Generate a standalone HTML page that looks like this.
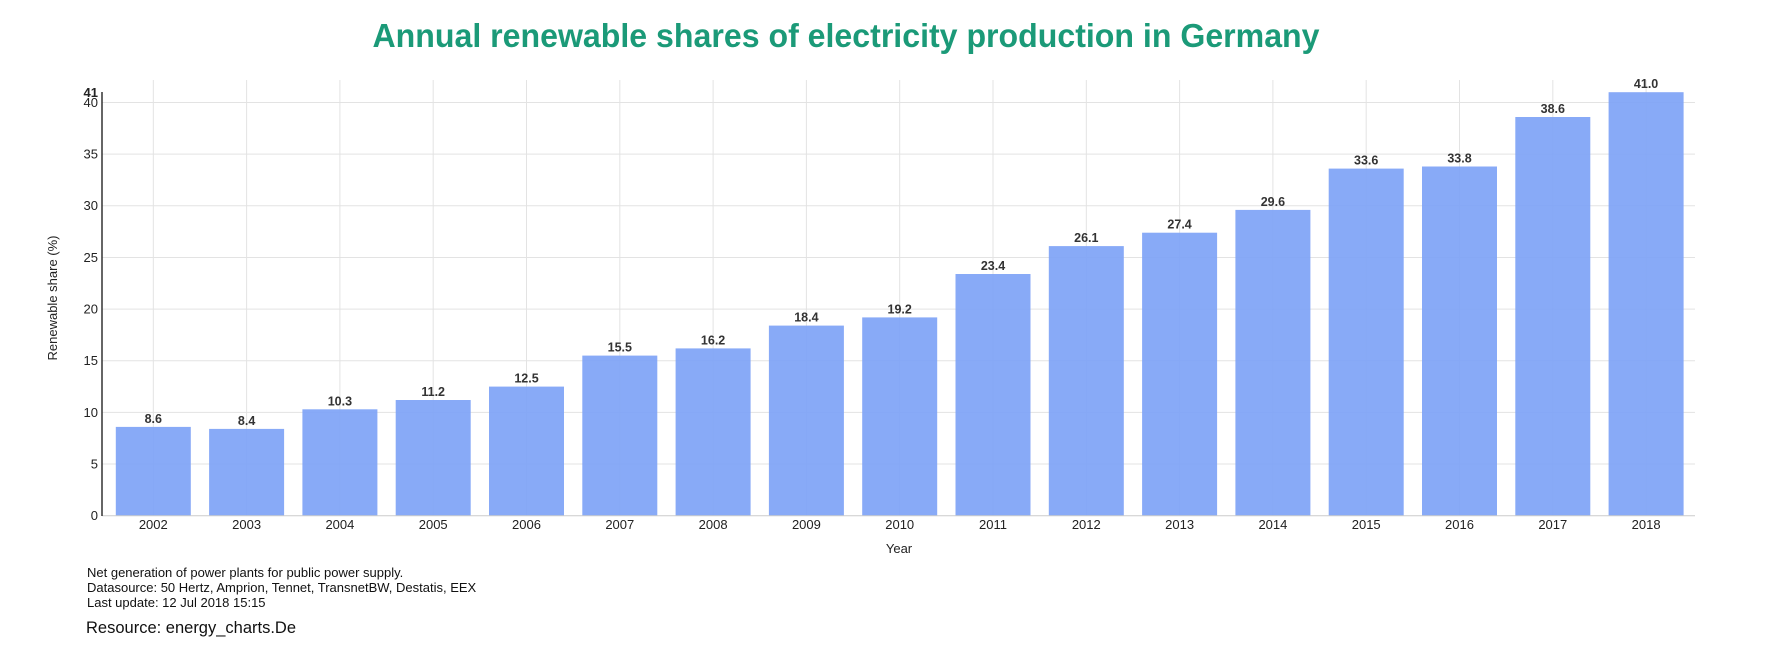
<!DOCTYPE html>
<html><head><meta charset="utf-8"><style>html,body{margin:0;padding:0;background:#fff;}svg{display:block}</style></head>
<body>
<svg width="1790" height="650" xmlns="http://www.w3.org/2000/svg" font-family="Liberation Sans, Arial, sans-serif">
<text x="846" y="47" text-anchor="middle" font-size="33" font-weight="bold" fill="#1b9a78" textLength="947" lengthAdjust="spacingAndGlyphs">Annual renewable shares of electricity production in Germany</text>
<g stroke="#e3e3e3" stroke-width="1">
<line x1="102" x2="1695" y1="464.05" y2="464.05"/><line x1="102" x2="1695" y1="412.4" y2="412.4"/><line x1="102" x2="1695" y1="360.75" y2="360.75"/><line x1="102" x2="1695" y1="309.1" y2="309.1"/><line x1="102" x2="1695" y1="257.45" y2="257.45"/><line x1="102" x2="1695" y1="205.8" y2="205.8"/><line x1="102" x2="1695" y1="154.15" y2="154.15"/><line x1="102" x2="1695" y1="102.5" y2="102.5"/>
<line x1="153.3" x2="153.3" y1="80" y2="516"/><line x1="246.6" x2="246.6" y1="80" y2="516"/><line x1="339.9" x2="339.9" y1="80" y2="516"/><line x1="433.2" x2="433.2" y1="80" y2="516"/><line x1="526.5" x2="526.5" y1="80" y2="516"/><line x1="619.8" x2="619.8" y1="80" y2="516"/><line x1="713.1" x2="713.1" y1="80" y2="516"/><line x1="806.4" x2="806.4" y1="80" y2="516"/><line x1="899.7" x2="899.7" y1="80" y2="516"/><line x1="993" x2="993" y1="80" y2="516"/><line x1="1086.3" x2="1086.3" y1="80" y2="516"/><line x1="1179.6" x2="1179.6" y1="80" y2="516"/><line x1="1272.9" x2="1272.9" y1="80" y2="516"/><line x1="1366.2" x2="1366.2" y1="80" y2="516"/><line x1="1459.5" x2="1459.5" y1="80" y2="516"/><line x1="1552.8" x2="1552.8" y1="80" y2="516"/><line x1="1646.1" x2="1646.1" y1="80" y2="516"/>
</g>
<g fill="#7ea3f6" fill-opacity="0.92">
<rect x="115.8" y="426.9" width="75" height="88.8"/><rect x="209.1" y="428.9" width="75" height="86.8"/><rect x="302.4" y="409.3" width="75" height="106.4"/><rect x="395.7" y="400.0" width="75" height="115.7"/><rect x="489.0" y="386.6" width="75" height="129.1"/><rect x="582.3" y="355.6" width="75" height="160.1"/><rect x="675.6" y="348.4" width="75" height="167.3"/><rect x="768.9" y="325.6" width="75" height="190.1"/><rect x="862.2" y="317.4" width="75" height="198.3"/><rect x="955.5" y="274.0" width="75" height="241.7"/><rect x="1048.8" y="246.1" width="75" height="269.6"/><rect x="1142.1" y="232.7" width="75" height="283.0"/><rect x="1235.4" y="209.9" width="75" height="305.8"/><rect x="1328.7" y="168.6" width="75" height="347.1"/><rect x="1422.0" y="166.5" width="75" height="349.2"/><rect x="1515.3" y="117.0" width="75" height="398.7"/><rect x="1608.6" y="92.2" width="75" height="423.5"/>
</g>
<g font-size="12.5" font-weight="bold" fill="#333" text-anchor="middle">
<text x="153.3" y="422.9">8.6</text><text x="246.6" y="424.9">8.4</text><text x="339.9" y="405.3">10.3</text><text x="433.2" y="396">11.2</text><text x="526.5" y="382.6">12.5</text><text x="619.8" y="351.6">15.5</text><text x="713.1" y="344.4">16.2</text><text x="806.4" y="321.6">18.4</text><text x="899.7" y="313.4">19.2</text><text x="993" y="270">23.4</text><text x="1086.3" y="242.1">26.1</text><text x="1179.6" y="228.7">27.4</text><text x="1272.9" y="205.9">29.6</text><text x="1366.2" y="164.6">33.6</text><text x="1459.5" y="162.5">33.8</text><text x="1552.8" y="113">38.6</text><text x="1646.1" y="88.2">41.0</text>
</g>
<line x1="102" x2="1695" y1="515.7" y2="515.7" stroke="#ccc"/>
<line x1="102" x2="102" y1="92" y2="516" stroke="#333" stroke-width="1.5"/>
<g font-size="13" fill="#222" text-anchor="end">
<text x="98" y="520">0</text><text x="98" y="468.5">5</text><text x="98" y="416.8">10</text><text x="98" y="365.2">15</text><text x="98" y="313.5">20</text><text x="98" y="261.9">25</text><text x="98" y="210.2">30</text><text x="98" y="158.6">35</text><text x="98" y="107">40</text><text x="98" y="97" font-weight="bold">41</text>
</g>
<g font-size="13" fill="#222" text-anchor="middle">
<text x="153.3" y="529">2002</text><text x="246.6" y="529">2003</text><text x="339.9" y="529">2004</text><text x="433.2" y="529">2005</text><text x="526.5" y="529">2006</text><text x="619.8" y="529">2007</text><text x="713.1" y="529">2008</text><text x="806.4" y="529">2009</text><text x="899.7" y="529">2010</text><text x="993" y="529">2011</text><text x="1086.3" y="529">2012</text><text x="1179.6" y="529">2013</text><text x="1272.9" y="529">2014</text><text x="1366.2" y="529">2015</text><text x="1459.5" y="529">2016</text><text x="1552.8" y="529">2017</text><text x="1646.1" y="529">2018</text>
<text x="899" y="553">Year</text>
<text transform="translate(57,298) rotate(-90)">Renewable share (%)</text>
</g>
<g font-size="13" fill="#111">
<text x="87" y="577">Net generation of power plants for public power supply.</text>
<text x="87" y="592">Datasource: 50 Hertz, Amprion, Tennet, TransnetBW, Destatis, EEX</text>
<text x="87" y="607">Last update: 12 Jul 2018 15:15</text>
<text x="86" y="633" font-size="16.5">Resource: energy_charts.De</text>
</g>
</svg>
</body></html>
